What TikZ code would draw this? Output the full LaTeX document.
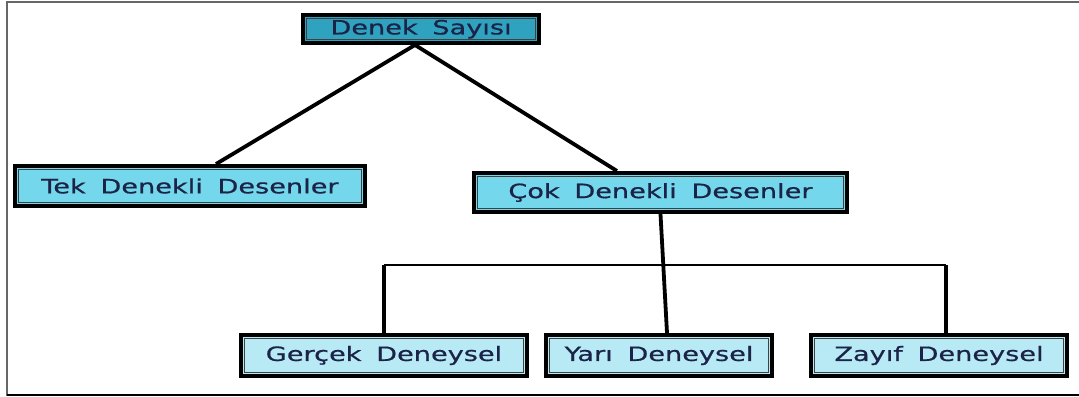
\documentclass[tikz,border=0pt]{standalone}
\usepackage{fontspec}
\usepackage{tikz}
\newfontfamily\boxfont[FakeStretch=1.38,WordSpace=1.7,FakeBold=0.7]{DejaVu Sans}
\definecolor{boxtext}{HTML}{1B2346}
\definecolor{topfill}{HTML}{2EA2BF}
\definecolor{midfill}{HTML}{74D7EC}
\definecolor{lowfill}{HTML}{B8EAF6}

\tikzset{
  box/.style={draw=black, line width=2.8pt, text=boxtext, inner sep=0pt,
    font=\boxfont\fontsize{14}{16}\selectfont,
    path picture={\draw[line width=0.8pt, black!75]
      ([shift={(2.6pt,-2.6pt)}]path picture bounding box.north west) rectangle
      ([shift={(-2.6pt,2.6pt)}]path picture bounding box.south east);}},
  conn/.style={line width=2.7pt, black},
  barline/.style={line width=1.6pt, black}
}

\begin{document}
\begin{tikzpicture}[x=0.025cm, y=-0.025cm]
  \useasboundingbox (0,0) rectangle (1079,396);
  % frame
  \draw[black!60, line width=1.5pt] (1079,2) -- (7,2) -- (7,396);
  \draw[black, line width=1.5pt] (7,395) -- (1079,395);

  \node[box, fill=topfill, minimum width=5.9cm, minimum height=0.7cm] (denek) at (421,29) {Denek Sayısı};
  \node[box, fill=midfill, minimum width=8.75cm, minimum height=1.0cm] (tek) at (190,186) {Tek Denekli Desenler};
  \node[box, fill=midfill, minimum width=9.325cm, minimum height=0.98cm] (cok) at (660.5,192.5) {Çok Denekli Desenler};
  \node[box, fill=lowfill, minimum width=7.15cm, minimum height=1.03cm] (gercek) at (384,355.5) {Gerçek Deneysel};
  \node[box, fill=lowfill, minimum width=5.65cm, minimum height=1.03cm] (yari) at (659,355.5) {Yarı Deneysel};
  \node[box, fill=lowfill, minimum width=6.4cm, minimum height=1.03cm] (zayif) at (939,355.5) {Zayıf Deneysel};

  \coordinate (bar) at (0,265);
  \coordinate (zj) at ([xshift=0.18cm]zayif.north);

  \draw[conn] ([xshift=-0.15cm]denek.south) -- ([xshift=0.65cm]tek.north);
  \draw[conn] ([xshift=-0.15cm]denek.south) -- ([xshift=-1.09cm]cok.north);
  \draw[conn] (cok.south) -- ([xshift=0.2cm]yari.north);
  \draw[barline] (gercek.north |- bar) -- (zj |- bar);
  \draw[conn] (gercek.north) -- (gercek.north |- bar);
  \draw[conn] (zj) -- (zj |- bar);
\end{tikzpicture}
\end{document}
